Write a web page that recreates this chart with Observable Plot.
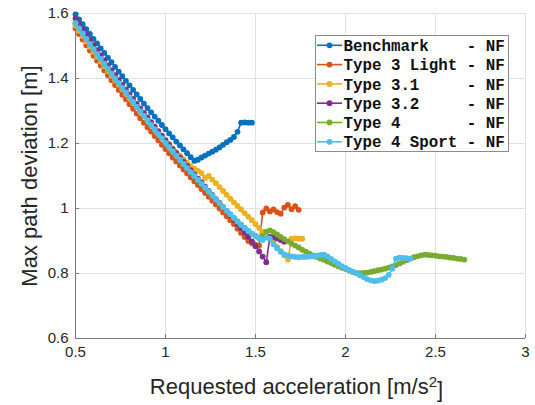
<!DOCTYPE html>
<html>
<head>
<meta charset="utf-8">
<script src="https://cdn.jsdelivr.net/npm/d3@7"></script>
<script src="https://cdn.jsdelivr.net/npm/@observablehq/plot@0.6"></script>
<style>
  html, body { margin: 0; padding: 0; background: #fff; }
  #chart { position: relative; width: 535px; height: 405px; }
  #legend { position: absolute; left: 315px; top: 35px; }
</style>
</head>
<body>
<div id="chart"></div>
<script>
// Requested acceleration grid [m/s^2], shared by all vehicle types
const accel = [
  0.50,0.52,0.54,0.56,0.58,0.60,0.62,0.64,0.66,0.68,
  0.70,0.72,0.74,0.76,0.78,0.80,0.82,0.84,0.86,0.88,
  0.90,0.92,0.94,0.96,0.98,1.00,1.02,1.04,1.06,1.08,
  1.10,1.12,1.14,1.16,1.18,1.20,1.22,1.24,1.26,1.28,
  1.30,1.32,1.34,1.36,1.38,1.40,1.42,1.44,1.46,1.48,
  1.50,1.52,1.54,1.56,1.58,1.60,1.62,1.64,1.66,1.68,
  1.70,1.72,1.74,1.76,1.78,1.80,1.82,1.84,1.86,1.88,
  1.90,1.92,1.94,1.96,1.98,2.00,2.02,2.04,2.06,2.08,
  2.10,2.12,2.14,2.16,2.18,2.20,2.22,2.24,2.26,2.28,
  2.30,2.32,2.34,2.36,2.38,2.40,2.42,2.44,2.46,2.48,
  2.50,2.52,2.54,2.56,2.58,2.60,2.62,2.64,2.66
];

// Max path deviation [m] per vehicle type, aligned with the accel grid
const benchmarkDev = [
  1.597,1.582,1.567,1.552,1.537,1.522,1.508,1.493,1.479,1.464,
  1.450,1.436,1.421,1.407,1.393,1.379,1.365,1.351,1.337,1.323,
  1.309,1.296,1.283,1.270,1.257,1.244,1.231,1.219,1.206,1.194,
  1.182,1.170,1.158,1.147,1.150,1.157,1.163,1.169,1.175,1.181,
  1.188,1.196,1.204,1.211,1.220,1.236,1.264,1.265,1.264,1.264
];
const type3LightDev = [
  1.555,1.537,1.520,1.502,1.486,1.470,1.455,1.440,1.425,1.410,
  1.395,1.380,1.365,1.350,1.336,1.321,1.307,1.292,1.278,1.264,
  1.250,1.237,1.223,1.210,1.196,1.183,1.170,1.157,1.145,1.132,
  1.120,1.108,1.096,1.084,1.072,1.060,1.048,1.036,1.024,1.012,
  1.000,0.988,0.976,0.964,0.952,0.938,0.925,0.912,0.900,0.893,
  0.889,0.886,0.988,1.000,0.991,0.997,0.989,0.984,1.003,1.011,
  0.998,1.007,0.996
];
const type31Dev = [
  1.563,1.547,1.531,1.514,1.498,1.482,1.467,1.452,1.438,1.423,
  1.409,1.395,1.381,1.367,1.353,1.339,1.325,1.312,1.298,1.285,
  1.272,1.259,1.246,1.233,1.221,1.209,1.197,1.185,1.174,1.163,
  1.152,1.141,1.131,1.123,1.116,1.109,1.094,1.100,1.089,1.078,
  1.066,1.054,1.042,1.030,1.019,1.008,0.997,0.986,0.975,0.964,
  0.952,0.940,0.928,0.917,0.906,0.895,0.882,0.869,0.856,0.843,
  0.907,0.908,0.907,0.907
];
const type32Dev = [
  1.585,1.568,1.551,1.535,1.519,1.503,1.487,1.471,1.456,1.440,
  1.425,1.410,1.395,1.380,1.366,1.351,1.337,1.322,1.308,1.294,
  1.280,1.266,1.252,1.238,1.224,1.210,1.197,1.183,1.170,1.157,
  1.144,1.131,1.118,1.105,1.092,1.080,1.067,1.054,1.042,1.029,
  1.017,1.004,0.992,0.979,0.966,0.953,0.940,0.927,0.913,0.899,
  0.884,0.868,0.852,0.835,0.913,0.912,0.908,0.903,0.898
];
const type4Dev = [
  1.570,1.554,1.538,1.522,1.506,1.490,1.475,1.460,1.445,1.430,
  1.415,1.400,1.386,1.371,1.357,1.342,1.328,1.313,1.299,1.285,
  1.271,1.257,1.243,1.229,1.216,1.202,1.189,1.176,1.163,1.150,
  1.137,1.124,1.112,1.100,1.088,1.076,1.064,1.052,1.040,1.028,
  1.016,1.004,0.993,0.982,0.971,0.960,0.950,0.940,0.931,0.923,
  0.916,0.909,0.915,0.929,0.933,0.927,0.920,0.913,0.906,0.899,
  0.892,0.886,0.880,0.873,0.867,0.861,0.856,0.851,0.846,0.842,
  0.837,0.832,0.827,0.822,0.818,0.814,0.809,0.805,0.802,0.801,
  0.802,0.803,0.805,0.807,0.810,0.812,0.815,0.818,0.822,0.826,
  0.831,0.836,0.841,0.846,0.850,0.853,0.856,0.858,0.857,0.856,
  0.855,0.853,0.852,0.851,0.849,0.848,0.846,0.845,0.843
];
const type4SportDev = [
  1.570,1.554,1.538,1.522,1.506,1.490,1.475,1.460,1.445,1.430,
  1.415,1.400,1.386,1.371,1.357,1.342,1.328,1.313,1.299,1.285,
  1.271,1.257,1.243,1.229,1.216,1.202,1.189,1.176,1.163,1.150,
  1.137,1.124,1.112,1.100,1.088,1.076,1.064,1.052,1.040,1.028,
  1.016,1.004,0.993,0.982,0.971,0.960,0.950,0.940,0.931,0.923,
  0.916,0.909,0.903,0.911,0.907,0.890,0.878,0.867,0.859,0.855,
  0.853,0.851,0.850,0.851,0.851,0.852,0.853,0.855,0.857,0.858,
  0.853,0.845,0.837,0.830,0.823,0.817,0.811,0.806,0.801,0.795,
  0.789,0.783,0.779,0.777,0.778,0.781,0.786,0.796,0.815,0.846,
  0.849,0.848,0.847,0.846
];

const seriesNames = ["Benchmark", "Type 3 Light", "Type 3.1", "Type 3.2", "Type 4", "Type 4 Sport"];
const legendLabels = [
  "Benchmark    - NF",
  "Type 3 Light - NF",
  "Type 3.1     - NF",
  "Type 3.2     - NF",
  "Type 4       - NF",
  "Type 4 Sport - NF"
];
const seriesColors = ["#0072BD", "#D95319", "#EDB120", "#7E2F8E", "#77AC30", "#4DBEEE"];

const xTicks = [0.5, 1, 1.5, 2, 2.5, 3];
const xTickLabels = ["0.5", "1", "1.5", "2", "2.5", "3"];
const yTicks = [0.6, 0.8, 1, 1.2, 1.4, 1.6];
const yTickLabels = ["0.6", "0.8", "1", "1.2", "1.4", "1.6"];

const xTitle = "Requested acceleration [m/s2]";
const yTitle = "Max path deviation [m]";

// Long-format rows for each series
const allDev = [benchmarkDev, type3LightDev, type31Dev, type32Dev, type4Dev, type4SportDev];
const seriesRows = allDev.map((ys, s) =>
  ys.map((dev, i) => ({series: seriesNames[s], accel: accel[i], dev}))
);

const axisInk = "#262626";
const axisLine = "#7a7a7a";
const gridInk = "#e2e2e2";
const markerR = 2.9;

const marks = [
  Plot.gridX(xTicks, {stroke: gridInk, strokeOpacity: 1}),
  Plot.gridY(yTicks, {stroke: gridInk, strokeOpacity: 1}),
  Plot.ruleY([0.6], {stroke: axisLine}),
  Plot.ruleX([0.5], {stroke: axisLine}),
  Plot.axisX({
    ticks: xTicks,
    tickFormat: d => xTickLabels[xTicks.indexOf(d)],
    tickSize: -4,
    tickPadding: 12,
    stroke: axisLine,
    fill: axisInk,
    label: null
  }),
  Plot.axisY({
    ticks: yTicks,
    tickFormat: d => yTickLabels[yTicks.indexOf(d)],
    tickSize: -4,
    tickPadding: 11,
    stroke: axisLine,
    fill: axisInk,
    label: null
  }),
  Plot.text([yTitle], {
    frameAnchor: "left", dx: -46, rotate: -90,
    fontSize: 22, fill: axisInk, lineAnchor: "middle", textAnchor: "middle"
  }),
  Plot.text([xTitle], {
    frameAnchor: "bottom", dy: 48, dx: -4,
    fontSize: 22, fill: axisInk, lineAnchor: "middle", textAnchor: "middle"
  })
];

// Each series: connecting line, then its markers (drawn in legend order)
seriesRows.forEach((rows, s) => {
  marks.push(Plot.line(rows, {x: "accel", y: "dev", stroke: seriesColors[s], strokeWidth: 1.6}));
  marks.push(Plot.dot(rows, {x: "accel", y: "dev", fill: seriesColors[s], r: markerR}));
});

const chart = Plot.plot({
  width: 535,
  height: 405,
  marginLeft: 75,
  marginRight: 10,
  marginTop: 13,
  marginBottom: 67,
  style: {
    fontFamily: "'Liberation Sans', Arial, Helvetica, sans-serif",
    fontSize: "15px",
    background: "#fff",
    color: axisInk
  },
  x: {domain: [0.5, 3], label: null},
  y: {domain: [0.6, 1.6], label: null},
  marks
});

const holder = document.getElementById("chart");
holder.appendChild(chart);

// Superscript on the unit of the x-axis title
d3.select(chart).selectAll("text").filter(function () { return this.textContent === xTitle; })
  .each(function () {
    const t = d3.select(this);
    t.text(null);
    t.append("tspan").text("Requested acceleration [m/s");
    t.append("tspan").attr("dy", "-0.45em").attr("font-size", "15px").text("2");
    t.append("tspan").attr("dy", "0.45em").text("]");
  });

// Legend box in the upper right of the axes
const legendW = 194, legendH = 117;
const lg = d3.select(holder).append("svg")
  .attr("id", "legend")
  .attr("width", legendW).attr("height", legendH);
lg.append("rect")
  .attr("x", 0.5).attr("y", 0.5)
  .attr("width", legendW - 1).attr("height", legendH - 1)
  .attr("fill", "#ffffff").attr("stroke", "#8c8c8c").attr("stroke-width", 1);

legendLabels.forEach((label, i) => {
  const cy = 10.3 + i * 19.3;
  lg.append("line")
    .attr("x1", 2).attr("x2", 27).attr("y1", cy).attr("y2", cy)
    .attr("stroke", seriesColors[i]).attr("stroke-width", 1.6);
  lg.append("circle")
    .attr("cx", 14.5).attr("cy", cy).attr("r", markerR)
    .attr("fill", seriesColors[i]);
  lg.append("text")
    .attr("x", 28.5).attr("y", cy).attr("dy", "0.36em")
    .attr("text-anchor", "start")
    .attr("font-family", "'Liberation Mono', 'DejaVu Sans Mono', monospace")
    .attr("font-weight", "bold")
    .attr("font-size", "15.8px")
    .attr("fill", "#111")
    .attr("xml:space", "preserve")
    .style("white-space", "pre")
    .text(label);
});
</script>
</body>
</html>
